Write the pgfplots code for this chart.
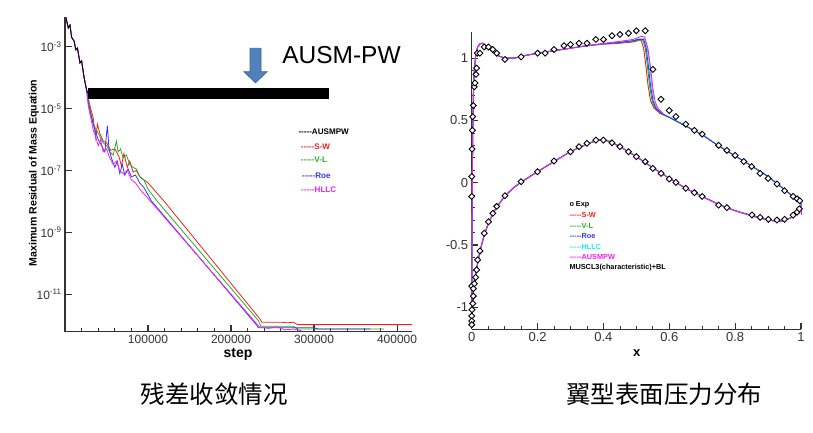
\documentclass[border=0pt]{standalone}
\usepackage{fontspec}
\setmainfont{Liberation Sans}
\newfontfamily\cjk{Noto Sans CJK SC}
\usepackage{pgfplots}
\pgfplotsset{compat=1.18}
\definecolor{axgray}{HTML}{333333}
\definecolor{swred}{HTML}{F02020}
\definecolor{vlgreen}{HTML}{20B020}
\definecolor{roeblue}{HTML}{3535F0}
\definecolor{hllccyan}{HTML}{20E8F0}
\definecolor{ausmag}{HTML}{F020F0}
\definecolor{arrowblue}{HTML}{4F81BD}
\definecolor{arrowedge}{HTML}{3A6595}
\newcommand\dd{\mbox{-}}
\newcommand\dsh{\dd\dd\dd\dd\dd}

% lower surface, shared by every scheme (trailing edge -> leading edge)
\pgfplotstableread{
x y
1.0 -0.16
1.0 -0.20
0.99 -0.24
0.97 -0.28
0.95 -0.305
0.93 -0.31
0.90 -0.30
0.85 -0.265
0.80 -0.225
0.75 -0.175
0.70 -0.11
0.65 -0.045
0.60 0.035
0.55 0.12
0.50 0.21
0.45 0.29
0.42 0.33
0.40 0.345
0.38 0.34
0.35 0.31
0.30 0.25
0.25 0.17
0.20 0.088
0.15 0.005
0.125 -0.045
0.10 -0.11
0.076 -0.195
0.064 -0.25
0.05 -0.33
0.038 -0.42
0.025 -0.55
0.02 -0.62
0.015 -0.69
0.01 -0.77
0.006 -0.86
0.003 -0.96
0.001 -1.05
0.0 -1.13
}\lowersurf

\begin{document}
\begin{tikzpicture}[x=1pt,y=1pt]
\path[use as bounding box] (0,0) rectangle (813,432);

% ---------------- residual history ----------------
\begin{axis}[
  at={(65pt,100.3pt)}, anchor=south west, scale only axis,
  width=347pt, height=315pt,
  ymode=log,
  xmin=0, xmax=418000, ymin=6.2e-13, ymax=9.3e-3,
  axis lines=left, axis line style={-, axgray, line width=1.3pt},
  scaled x ticks=false,
  xtick={100000,200000,300000,400000},
  xticklabels={100000,200000,300000,400000},
  minor xtick={20000,40000,60000,80000,120000,140000,160000,180000,220000,240000,260000,280000,320000,340000,360000,380000},
  ytick={1e-11,1e-9,1e-7,1e-5,1e-3},
  yticklabels={10\textsuperscript{-11},10\textsuperscript{-9},10\textsuperscript{-7},10\textsuperscript{-5},10\textsuperscript{-3}},
  yminorticks=false,
  tick align=inside, major tick length=7pt, minor tick length=4pt,
  every tick/.style={axgray, line width=1.1pt},
  minor tick style={line width=0.7pt},
  xticklabel style={font=\fontsize{12}{12}\selectfont, text=axgray},
  yticklabel style={font=\fontsize{12}{12}\selectfont, text=axgray},
]
\addplot[swred, line width=0.8pt] coordinates {
  (1000,8.9e-3) (4000,4.0e-3) (6000,5.0e-3) (8000,2.0e-3) (11000,1.5e-3)
  (13000,8.0e-4) (15000,9.0e-4) (18000,3.0e-4) (20000,3.5e-4) (23000,1.0e-4)
  (26000,3.98e-5) (30000,1.26e-5) (34000,5.01e-6) (37000,1.12e-6) (39000,3.16e-6)
  (42000,1.58e-6) (46000,8.91e-7) (50000,7.94e-7) (55000,4.47e-7) (60000,5.01e-7)
  (65000,2.82e-7) (68000,1.41e-7) (71000,3.55e-7) (75000,1.26e-7) (78000,2.00e-7)
  (82000,8.91e-8) (86000,1.00e-7) (90000,6.31e-8) (95000,5.01e-8) (100000,3.98e-8)
  (119000,1.05e-8) (235000,1.58e-12) (237000,1.26e-12) (260000,1.26e-12)
  (268000,1.20e-12) (275000,1.26e-12) (280000,1.05e-12) (418000,1.05e-12)
};
\addplot[vlgreen, line width=0.8pt] coordinates {
  (1000,8.9e-3) (4000,4.0e-3) (6000,5.0e-3) (8000,2.0e-3) (11000,1.5e-3)
  (13000,8.0e-4) (15000,9.0e-4) (18000,3.0e-4) (20000,3.5e-4) (23000,1.0e-4)
  (26000,3.98e-5) (28000,2.0e-5) (31000,7.94e-6) (34000,3.16e-6) (38000,2.0e-6)
  (42000,1.26e-6) (46000,7.94e-7) (50000,6.31e-7) (54000,3.98e-7) (58000,3.16e-7)
  (62000,8.91e-7) (64000,3.98e-7) (67000,5.01e-7) (70000,2.51e-7) (74000,3.16e-7)
  (78000,1.58e-7) (82000,1.26e-7) (86000,1.12e-7) (90000,6.31e-8) (95000,5.01e-8)
  (100000,2.51e-8) (110700,1.05e-8) (233000,1.41e-12) (236000,9.33e-13)
  (275000,9.33e-13) (280000,7.59e-13) (384000,7.59e-13)
};
\addplot[roeblue, line width=0.8pt] coordinates {
  (1000,8.9e-3) (4000,4.0e-3) (6000,5.0e-3) (8000,2.0e-3) (11000,1.5e-3)
  (13000,8.0e-4) (15000,9.0e-4) (18000,3.0e-4) (20000,3.5e-4) (23000,1.0e-4)
  (26000,3.98e-5) (28000,1.58e-5) (31000,6.31e-6) (35000,2.51e-6) (40000,1.0e-6)
  (44000,6.31e-7) (48000,3.98e-7) (51000,2.82e-6) (53000,5.01e-7) (56000,2.51e-7)
  (60000,1.26e-7) (63000,2.0e-7) (66000,7.94e-8) (69000,1.58e-7) (72000,7.08e-8)
  (76000,1.12e-7) (80000,6.31e-8) (85000,7.08e-8) (90000,3.98e-8) (95000,2.82e-8)
  (104000,1.05e-8) (231000,1.0e-12) (233000,8.32e-13) (300000,8.32e-13)
  (305000,7.59e-13) (368000,7.59e-13)
};
\addplot[ausmag, line width=0.8pt] coordinates {
  (1000,8.9e-3) (4000,4.0e-3) (6000,5.0e-3) (8000,2.0e-3) (11000,1.5e-3)
  (13000,8.0e-4) (15000,9.0e-4) (18000,3.0e-4) (20000,3.5e-4) (23000,1.0e-4)
  (26000,3.98e-5) (28000,1.26e-5) (31000,5.01e-6) (34000,2.0e-6) (37000,1.26e-6)
  (40000,6.31e-7) (43000,1.0e-6) (46000,3.98e-7) (50000,5.01e-7) (54000,2.51e-7)
  (58000,1.58e-7) (62000,2.0e-7) (66000,1.0e-7) (70000,7.94e-8) (75000,1.0e-7)
  (80000,5.01e-8) (85000,3.98e-8) (90000,2.51e-8) (95000,1.78e-8) (102600,1.05e-8)
  (231500,1.07e-12) (234000,8.91e-13) (245000,7.94e-13) (255000,8.91e-13)
  (265000,7.08e-13) (275000,7.59e-13) (285000,6.61e-13)
};
\addplot[black, line width=0.8pt] coordinates {
  (1000,8.9e-3) (4000,4.0e-3) (6000,5.0e-3) (8000,2.0e-3) (11000,1.5e-3)
  (13000,8.0e-4) (15000,9.0e-4) (18000,3.0e-4) (20000,3.5e-4) (23000,1.0e-4)
  (26000,3.98e-5) (27700,3.16e-5)
};
% AUSMPW stalls: a dense oscillation between about 2.1e-5 and 4.8e-5
\addplot[black, line width=11pt] coordinates {(27700,3.16e-5) (318000,3.16e-5)};
\end{axis}

% ---------------- pressure distribution ----------------
\begin{axis}[
  at={(471.7pt,102.7pt)}, anchor=south west, scale only axis,
  width=329.3pt, height=297.3pt,
  xmin=0, xmax=1, ymin=-1.177, ymax=1.21,
  clip=false,
  axis lines=left, axis line style={-, axgray, line width=1.3pt},
  xtick={0,0.2,0.4,0.6,0.8,1}, xticklabels={0,0.2,0.4,0.6,0.8,1},
  minor x tick num=3,
  ytick={-1,-0.5,0,0.5,1}, yticklabels={-1,-0.5,0,0.5,1},
  minor y tick num=4,
  tick align=inside, major tick length=6pt, minor tick length=3.5pt,
  every tick/.style={axgray, line width=1.1pt},
  minor tick style={line width=0.7pt},
  xticklabel style={font=\fontsize{13}{13}\selectfont, text=axgray},
  yticklabel style={font=\fontsize{13}{13}\selectfont, text=axgray},
]
\addplot[swred, line width=0.9pt] coordinates {
  (0,-1.13) (0.0005,-0.9) (0.001,-0.5) (0.002,0) (0.003,0.4) (0.005,0.7) (0.008,0.9)
  (0.012,1.02) (0.018,1.09) (0.025,1.115) (0.032,1.12) (0.04,1.105) (0.05,1.085)
  (0.065,1.05) (0.08,1.02) (0.1,1.0) (0.13,1.0) (0.16,1.02) (0.2,1.04) (0.25,1.06)
  (0.3,1.08) (0.35,1.1) (0.4,1.112) (0.45,1.12) (0.49,1.13) (0.505,1.14) (0.515,1.14)
  (0.522,1.08) (0.528,0.96) (0.535,0.79) (0.543,0.66) (0.553,0.6) (0.572,0.556)
  (0.6,0.525) (0.65,0.455) (0.7,0.385) (0.75,0.295) (0.8,0.215) (0.85,0.135)
  (0.9,0.05) (0.95,-0.055) (0.98,-0.12) (1.0,-0.16)
};
\addplot[swred, line width=0.9pt] table {\lowersurf};
\addplot[vlgreen, line width=0.9pt] coordinates {
  (0,-1.13) (0.0005,-0.9) (0.001,-0.5) (0.002,0) (0.003,0.4) (0.005,0.7) (0.008,0.9)
  (0.012,1.02) (0.018,1.09) (0.025,1.115) (0.032,1.12) (0.04,1.105) (0.05,1.085)
  (0.065,1.05) (0.08,1.02) (0.1,1.0) (0.13,1.0) (0.16,1.02) (0.2,1.04) (0.25,1.06)
  (0.3,1.08) (0.35,1.1) (0.4,1.115) (0.45,1.125) (0.49,1.135) (0.505,1.145) (0.52,1.145)
  (0.527,1.08) (0.533,0.95) (0.54,0.78) (0.548,0.65) (0.558,0.595) (0.575,0.555)
  (0.6,0.525) (0.65,0.455) (0.7,0.385) (0.75,0.295) (0.8,0.215) (0.85,0.135)
  (0.9,0.05) (0.95,-0.055) (0.98,-0.12) (1.0,-0.16)
};
\addplot[vlgreen, line width=0.9pt] table {\lowersurf};
\addplot[hllccyan, line width=0.9pt] coordinates {
  (0,-1.13) (0.0005,-0.9) (0.001,-0.5) (0.002,0) (0.003,0.4) (0.005,0.7) (0.008,0.9)
  (0.012,1.02) (0.018,1.09) (0.025,1.115) (0.032,1.12) (0.04,1.105) (0.05,1.085)
  (0.065,1.05) (0.08,1.02) (0.1,1.0) (0.13,1.0) (0.16,1.02) (0.2,1.04) (0.25,1.06)
  (0.3,1.08) (0.35,1.1) (0.4,1.115) (0.45,1.128) (0.49,1.14) (0.505,1.155) (0.525,1.155)
  (0.533,1.08) (0.54,0.95) (0.547,0.78) (0.554,0.65) (0.563,0.595) (0.579,0.555)
  (0.6,0.525) (0.65,0.455) (0.7,0.385) (0.75,0.295) (0.8,0.215) (0.85,0.135)
  (0.9,0.05) (0.95,-0.055) (0.98,-0.12) (1.0,-0.16)
};
\addplot[hllccyan, line width=0.9pt] table {\lowersurf};
\addplot[roeblue, line width=0.9pt] coordinates {
  (0,-1.13) (0.0005,-0.9) (0.001,-0.5) (0.002,0) (0.003,0.4) (0.005,0.7) (0.008,0.9)
  (0.012,1.02) (0.018,1.09) (0.025,1.115) (0.032,1.12) (0.04,1.105) (0.05,1.085)
  (0.065,1.05) (0.08,1.02) (0.1,1.0) (0.13,1.0) (0.16,1.02) (0.2,1.04) (0.25,1.06)
  (0.3,1.08) (0.35,1.1) (0.4,1.115) (0.45,1.126) (0.49,1.14) (0.505,1.15) (0.522,1.15)
  (0.53,1.08) (0.536,0.95) (0.543,0.78) (0.551,0.65) (0.56,0.595) (0.577,0.555)
  (0.6,0.525) (0.65,0.455) (0.7,0.385) (0.75,0.295) (0.8,0.215) (0.85,0.135)
  (0.9,0.05) (0.95,-0.055) (0.98,-0.12) (1.0,-0.16)
};
\addplot[roeblue, line width=0.9pt] table {\lowersurf};
\addplot[ausmag, line width=0.9pt] coordinates {
  (0,-1.13) (0.0005,-0.9) (0.001,-0.5) (0.002,0) (0.003,0.4) (0.005,0.7) (0.008,0.9)
  (0.012,1.02) (0.018,1.09) (0.025,1.115) (0.032,1.12) (0.04,1.105) (0.05,1.085)
  (0.065,1.05) (0.08,1.02) (0.1,1.0) (0.13,1.0) (0.16,1.02) (0.2,1.04) (0.25,1.06)
  (0.3,1.08) (0.35,1.1) (0.4,1.118) (0.45,1.135) (0.49,1.15) (0.505,1.165) (0.515,1.175)
  (0.525,1.17) (0.535,1.08) (0.543,0.93) (0.55,0.76) (0.557,0.65) (0.566,0.595)
  (0.582,0.555)
};
\addplot[ausmag, line width=0.9pt] table {\lowersurf};
\addplot[ausmag, line width=0.9pt] coordinates {(1.0,-0.2) (1.0,-0.26)};
% experiment
\addplot[only marks, mark=square*, mark size=2.1pt,
  mark options={rotate=45, fill=white, draw=black, line width=0.9pt}] coordinates {
  (0,0.05) (0.001,0.27) (0.002,0.42) (0.003,0.53) (0.005,0.62) (0.008,0.77)
  (0.01,0.80) (0.013,0.87) (0.015,0.92) (0.017,1.04) (0.025,1.04) (0.038,1.09)
  (0.051,1.09) (0.064,1.07) (0.076,1.04) (0.101,0.99) (0.15,1.01) (0.2,1.04)
  (0.223,1.04) (0.25,1.07) (0.28,1.10) (0.30,1.11) (0.326,1.12) (0.35,1.12)
  (0.377,1.15) (0.40,1.15) (0.426,1.18) (0.45,1.19) (0.476,1.20) (0.50,1.22)
  (0.527,1.22) (0.55,0.91) (0.575,0.67) (0.60,0.58) (0.62,0.53) (0.65,0.47)
  (0.676,0.42) (0.70,0.39) (0.75,0.30) (0.775,0.26) (0.80,0.22) (0.826,0.17)
  (0.85,0.13) (0.876,0.075) (0.90,0.035) (0.927,-0.01) (0.95,-0.064)
  (0.976,-0.11) (0.988,-0.13) (0.996,-0.145)
  (0,-0.11) (0,-0.83) (0.005,-0.85) (0.005,-0.91) (0.003,-0.97) (0.001,-1.02)
  (0,-1.07) (0,-1.11) (0,-1.14) (0.008,-0.81) (0.012,-0.76) (0.015,-0.70)
  (0.018,-0.62) (0.025,-0.548) (0.038,-0.406) (0.051,-0.313) (0.064,-0.246)
  (0.076,-0.19) (0.101,-0.104) (0.15,0.008) (0.2,0.088) (0.25,0.174)
  (0.30,0.249) (0.326,0.289) (0.35,0.316) (0.377,0.342) (0.40,0.342)
  (0.426,0.32) (0.45,0.289) (0.476,0.249) (0.50,0.209) (0.527,0.169)
  (0.55,0.115) (0.575,0.075) (0.60,0.03) (0.62,0.003) (0.65,-0.045)
  (0.676,-0.08) (0.70,-0.11) (0.75,-0.18) (0.775,-0.20) (0.851,-0.259)
  (0.876,-0.278) (0.901,-0.294) (0.927,-0.30) (0.95,-0.294) (0.976,-0.26)
  (0.988,-0.236) (0.995,-0.21)
};
\end{axis}

% labels
\node[rotate=90, font=\bfseries\fontsize{10.6}{10.6}\selectfont] at (34,259) {Maximum Residual of Mass Equation};
\node[font=\bfseries\fontsize{14}{14}\selectfont] at (238,78) {step};
\node[font=\bfseries\fontsize{13}{13}\selectfont] at (636.7,79) {x};

% left legend
\begin{scope}[every node/.style={anchor=west, inner sep=0pt, font=\bfseries\fontsize{8.1}{8.1}\selectfont}]
\node[text=black]    at (298.3,300.3) {\dsh AUSMPW};
\node[text=swred]    at (300.7,285.3) {\dsh S-W};
\node[text=vlgreen]  at (300.7,272.7) {\dsh V-L};
\node[text=roeblue]  at (301.7,256.3) {\dsh Roe};
\node[text=ausmag]   at (301,242)     {\dsh HLLC};
\end{scope}

% right legend
\begin{scope}[every node/.style={anchor=west, inner sep=0pt, font=\bfseries\fontsize{7.3}{7.3}\selectfont}]
\node[text=black]     at (569.3,227)   {o Exp};
\node[text=swred]     at (569.3,217)   {\dsh S-W};
\node[text=vlgreen]   at (569.3,206.3) {\dsh V-L};
\node[text=roeblue]   at (569.3,195.7) {\dsh Roe};
\node[text=hllccyan]  at (569.3,185.3) {\dsh HLLC};
\node[text=ausmag]    at (569.3,175.3) {\dsh AUSMPW};
\node[text=black]     at (569.3,164.3) {MUSCL3(characteristic)+BL};
\end{scope}

% annotation arrow and label
\filldraw[fill=arrowblue, draw=arrowedge, line width=0.8pt]
  (250,383.7) -- (261,383.7) -- (261,360.3) -- (267,360.3) -- (255.5,349.3)
  -- (244,360.3) -- (250,360.3) -- cycle;
\node[font=\fontsize{24.5}{24.5}\selectfont] at (341.5,377) {AUSM-PW};

% captions
\node[font=\cjk\fontsize{24.5}{24.5}\selectfont] at (214,38) {残差收敛情况};
\node[font=\cjk\fontsize{24.5}{24.5}\selectfont] at (664,38) {翼型表面压力分布};
\end{tikzpicture}
\end{document}
